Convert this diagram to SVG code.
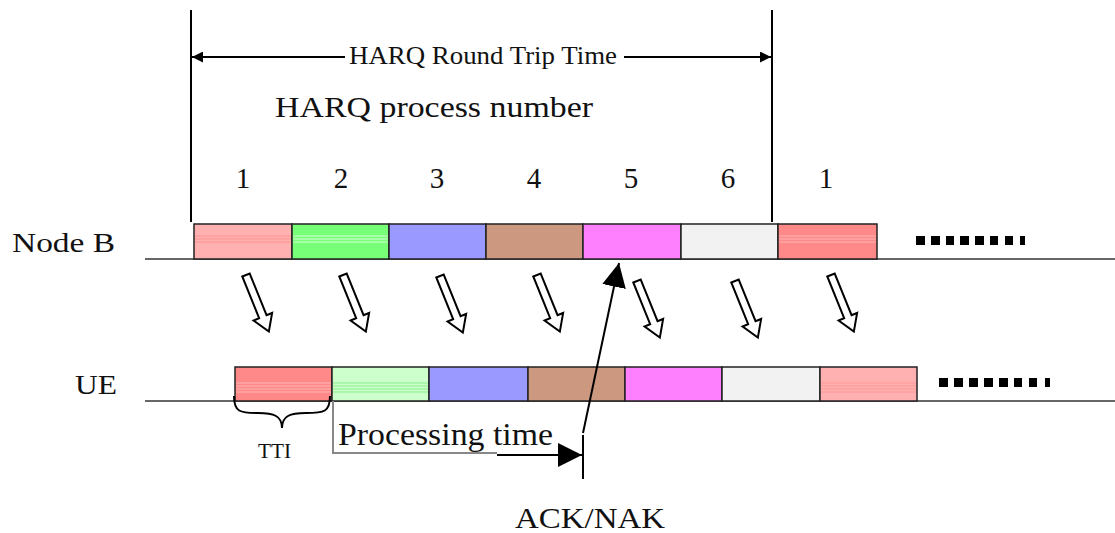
<svg xmlns="http://www.w3.org/2000/svg" width="1115" height="533" viewBox="0 0 1115 533">
<style>
text{font-family:"Liberation Serif","Times New Roman",serif;fill:#111}
.slot{stroke:#222;stroke-width:1.5}
.line{stroke:#333;stroke-width:1.5;fill:none}
.blk{stroke:#000;stroke-width:2;fill:none}
.gray{stroke:#888;stroke-width:2;fill:none}
.hollow{fill:#fff;stroke:#000;stroke-width:2;stroke-linejoin:miter}
.dash{fill:#000}
</style>
<defs>
<path id="hollowArrow" d="M-4,0 L4,0 L4,45 L10,45 L0,61 L-10,45 L-4,45 Z"/>
<marker id="ah" viewBox="0 0 10 10" refX="10" refY="5" markerWidth="14" markerHeight="11" markerUnits="userSpaceOnUse" orient="auto">
<path d="M0,0 L10,5 L0,10 Z" fill="#000"/>
</marker>
<marker id="ahBig" viewBox="0 0 10 10" refX="10" refY="5" markerWidth="24" markerHeight="24" markerUnits="userSpaceOnUse" orient="auto">
<path d="M0,0 L10,5 L0,10 Z" fill="#000"/>
</marker>
</defs>
<rect width="1115" height="533" fill="#fff"/>

<g id="rtt">
<line class="blk" x1="191" y1="10" x2="191" y2="222"/>
<line class="blk" x1="772" y1="10" x2="772" y2="222"/>
<line class="blk" x1="345" y1="57" x2="192" y2="57" marker-end="url(#ah)"/>
<line class="blk" x1="624" y1="57" x2="771" y2="57" marker-end="url(#ah)"/>
<text x="349" y="64" font-size="25" textLength="268" lengthAdjust="spacingAndGlyphs">HARQ Round Trip Time</text>
</g>

<g id="header">
<text x="275" y="117" font-size="30" textLength="318" lengthAdjust="spacingAndGlyphs">HARQ process number</text>
<g font-size="29" text-anchor="middle">
<text x="243" y="188">1</text>
<text x="341" y="188">2</text>
<text x="437" y="188">3</text>
<text x="534" y="188">4</text>
<text x="631" y="188">5</text>
<text x="728" y="188">6</text>
<text x="826" y="188">1</text>
</g>
</g>

<g id="nodeb">
<text x="12" y="252" font-size="28" textLength="103" lengthAdjust="spacingAndGlyphs">Node B</text>
<line class="line" x1="145" y1="259" x2="1115" y2="259"/>
<g id="nb1"><rect class="slot" x="194" y="224" width="98" height="35" fill="#ffb0b0"/>
<g stroke="#ff9292" stroke-width="1"><line x1="195" y1="236" x2="291" y2="236"/><line x1="195" y1="239" x2="291" y2="239"/><line x1="195" y1="242" x2="291" y2="242"/></g></g>
<g id="nb2"><rect class="slot" x="292" y="224" width="97" height="35" fill="#77ff77"/>
<g stroke="#d8ffd8" stroke-width="1"><line x1="293" y1="236" x2="388" y2="236"/><line x1="293" y1="239" x2="388" y2="239"/><line x1="293" y1="242" x2="388" y2="242"/></g></g>
<g id="nb3"><rect class="slot" x="389" y="224" width="97" height="35" fill="#9999ff"/></g>
<g id="nb4"><rect class="slot" x="486" y="224" width="97" height="35" fill="#cc9980"/></g>
<g id="nb5"><rect class="slot" x="583" y="224" width="98" height="35" fill="#ff80ff"/></g>
<g id="nb6"><rect class="slot" x="681" y="224" width="97" height="35" fill="#f2f2f2"/></g>
<g id="nb7"><rect class="slot" x="778" y="224" width="99" height="35" fill="#ff8888"/>
<g stroke="#ffb8b8" stroke-width="1"><line x1="779" y1="236" x2="876" y2="236"/><line x1="779" y1="239" x2="876" y2="239"/><line x1="779" y1="242" x2="876" y2="242"/></g></g>
<g id="nbdots" class="dash">
<rect x="916" y="236" width="9" height="9"/><rect x="931" y="236" width="9" height="9"/><rect x="946" y="236" width="8" height="9"/><rect x="960" y="236" width="9" height="9"/><rect x="975" y="236" width="9" height="9"/><rect x="990" y="236" width="8" height="9"/><rect x="1005" y="236" width="8" height="9"/><rect x="1020" y="236" width="5" height="9"/>
</g>
</g>

<g id="ue">
<text x="75" y="394" font-size="28" textLength="42" lengthAdjust="spacingAndGlyphs">UE</text>
<line class="line" x1="145" y1="401" x2="1115" y2="401"/>
<g id="ue1"><rect class="slot" x="235" y="367" width="97" height="34" fill="#ff8888"/>
<g stroke="#ffb8b8" stroke-width="1"><line x1="236" y1="383" x2="331" y2="383"/><line x1="236" y1="386" x2="331" y2="386"/><line x1="236" y1="389" x2="331" y2="389"/><line x1="236" y1="392" x2="331" y2="392"/></g></g>
<g id="ue2"><rect class="slot" x="332" y="367" width="97" height="34" fill="#ccffcc"/>
<g stroke="#88ee88" stroke-width="1"><line x1="333" y1="383" x2="428" y2="383"/><line x1="333" y1="386" x2="428" y2="386"/><line x1="333" y1="389" x2="428" y2="389"/><line x1="333" y1="392" x2="428" y2="392"/></g></g>
<g id="ue3"><rect class="slot" x="429" y="367" width="99" height="34" fill="#9999ff"/></g>
<g id="ue4"><rect class="slot" x="528" y="367" width="97" height="34" fill="#cc9980"/></g>
<g id="ue5"><rect class="slot" x="625" y="367" width="97" height="34" fill="#ff80ff"/></g>
<g id="ue6"><rect class="slot" x="722" y="367" width="98" height="34" fill="#f2f2f2"/></g>
<g id="ue7"><rect class="slot" x="820" y="367" width="97" height="34" fill="#ffb0b0"/>
<g stroke="#ff9696" stroke-width="1"><line x1="821" y1="383" x2="916" y2="383"/><line x1="821" y1="386" x2="916" y2="386"/><line x1="821" y1="389" x2="916" y2="389"/><line x1="821" y1="392" x2="916" y2="392"/></g></g>
<g id="uedots" class="dash">
<rect x="939" y="378" width="9" height="9"/><rect x="954" y="378" width="9" height="9"/><rect x="969" y="378" width="9" height="9"/><rect x="984" y="378" width="9" height="9"/><rect x="999" y="378" width="9" height="9"/><rect x="1014" y="378" width="8" height="9"/><rect x="1029" y="378" width="8" height="9"/><rect x="1045" y="378" width="5" height="9"/>
</g>
</g>

<g id="tti">
<path class="blk" d="M234,396 C234,412 240,413 258,413 C274,413 282,416 282,428 C282,416 290,413 306,413 C324,413 330,412 330,396" stroke-width="2.5"/>
<text x="258" y="458" font-size="20" textLength="33" lengthAdjust="spacingAndGlyphs">TTI</text>
</g>

<g id="processing">
<polyline class="gray" points="333,401 333,453 497,453"/>
<text x="338" y="445" font-size="31" textLength="215" lengthAdjust="spacingAndGlyphs">Processing time</text>
</g>

<g id="acknak">
<line class="blk" x1="583" y1="435" x2="583" y2="479"/>
<text x="515" y="528" font-size="29" textLength="150" lengthAdjust="spacingAndGlyphs">ACK/NAK</text>
</g>

<g id="connectors">
<line class="blk" x1="497" y1="455" x2="582" y2="455" marker-end="url(#ahBig)"/>
<line class="blk" x1="583" y1="433" x2="619" y2="263" marker-end="url(#ahBig)"/>
<use href="#hollowArrow" class="hollow" transform="translate(246,275) rotate(-22)"/>
<use href="#hollowArrow" class="hollow" transform="translate(343,275) rotate(-22)"/>
<use href="#hollowArrow" class="hollow" transform="translate(440,276) rotate(-22)"/>
<use href="#hollowArrow" class="hollow" transform="translate(537,275) rotate(-22)"/>
<use href="#hollowArrow" class="hollow" transform="translate(637,281) rotate(-22)"/>
<use href="#hollowArrow" class="hollow" transform="translate(735,281) rotate(-22)"/>
<use href="#hollowArrow" class="hollow" transform="translate(831,275) rotate(-22)"/>
</g>
</svg>
